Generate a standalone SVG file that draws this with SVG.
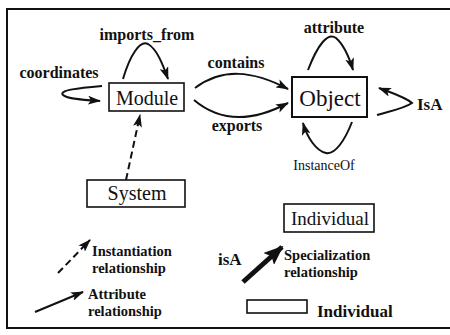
<svg xmlns="http://www.w3.org/2000/svg" width="450" height="335" viewBox="0 0 450 335">
<style>
.bx{fill:#fff;stroke:#111;stroke-width:1.6}
text{font-family:"Liberation Serif","Times New Roman",Tinos,"DejaVu Serif",serif}
.lbl{font-weight:bold;font-size:16px;fill:#111}
.lg{font-weight:bold;font-size:14.5px;fill:#111}
.nd{font-size:20px;fill:#111}
.cn{fill:none;stroke:#111;stroke-width:2}
.dash{stroke-dasharray:7,4}
</style>
<defs>
<marker id="ah" markerUnits="userSpaceOnUse" markerWidth="13" markerHeight="9" refX="12" refY="4.5" orient="auto">
<path d="M0,0 L13,4.5 L0,9 L3,4.5 z" fill="#111"/>
</marker>
<marker id="ahb" markerUnits="userSpaceOnUse" markerWidth="20" markerHeight="16" refX="18" refY="8" orient="auto">
<path d="M0,0 L20,8 L0,16 L4,8 z" fill="#111"/>
</marker>
</defs>
<rect width="450" height="335" fill="#fff"/>
<g id="frame" fill="none" stroke="#111" stroke-width="2">
<path d="M450,9 L7,9 L7,328 L450,328"/>
</g>
<g id="connectors">
<path class="cn" d="M102,86 C80,88 58,90 63,95 C67,99 85,100 100,101" marker-end="url(#ah)"/>
<path class="cn" d="M123,79 C130,55 140,40 148,44 C157,49 163,65 168,79" marker-end="url(#ah)"/>
<path class="cn" d="M195,88 C222,68 252,70 288,89" marker-end="url(#ah)"/>
<path class="cn" d="M194,100 C220,122 252,122 288,103" marker-end="url(#ah)"/>
<path class="cn" d="M308,70 C318,44 328,32 336,38 C344,45 350,60 353,70" marker-end="url(#ah)"/>
<path class="cn" d="M377,115 C395,110 405,108 412,103 C405,97 392,93 379,88" marker-end="url(#ah)"/>
<path class="cn" d="M352,122 C345,140 335,155 326,153 C316,151 307,137 303,123" marker-end="url(#ah)"/>
<path class="cn dash" d="M126,180 L140,115" marker-end="url(#ah)"/>
</g>
<g id="Module">
<rect class="bx" x="109" y="83" width="75" height="28"/>
<text class="nd" x="147" y="105" text-anchor="middle">Module</text>
</g>
<g id="Object">
<rect class="bx" x="292" y="77" width="75" height="40" style="stroke-width:2"/>
<text class="nd" x="330" y="106" text-anchor="middle" style="font-size:23px">Object</text>
</g>
<g id="System">
<rect class="bx" x="87" y="180" width="98" height="27"/>
<text class="nd" x="137" y="200" text-anchor="middle">System</text>
</g>
<g id="Individual">
<rect class="bx" x="284" y="204" width="90" height="28"/>
<text class="nd" x="330" y="225" text-anchor="middle" style="font-size:19px">Individual</text>
</g>
<g id="labels">
<text class="lbl" x="147" y="40" text-anchor="middle">imports_from</text>
<text class="lbl" x="59" y="78" text-anchor="middle">coordinates</text>
<text class="lbl" x="236" y="68" text-anchor="middle">contains</text>
<text class="lbl" x="237" y="131" text-anchor="middle">exports</text>
<text class="lbl" x="334" y="33" text-anchor="middle">attribute</text>
<text class="lbl" x="417" y="110" style="font-size:17px">IsA</text>
<text class="lbl" x="324" y="170" text-anchor="middle" style="font-weight:normal;font-size:14px">InstanceOf</text>
</g>
<g id="legend">
<path class="cn dash" d="M58,273 L90,240" marker-end="url(#ah)"/>
<text class="lg" x="92" y="256">Instantiation</text>
<text class="lg" x="92" y="272.5">relationship</text>
<path class="cn" d="M35,312 L83,292" marker-end="url(#ah)"/>
<text class="lg" x="88" y="299">Attribute</text>
<text class="lg" x="88" y="315.5">relationship</text>
<text class="lbl" x="218" y="265" style="font-size:17px">isA</text>
<path class="cn" d="M243,282 L282,247" style="stroke-width:5" marker-end="url(#ahb)"/>
<text class="lg" x="284" y="260">Specialization</text>
<text class="lg" x="284" y="276.5">relationship</text>
<rect class="bx" x="247" y="300" width="60" height="13"/>
<text class="lbl" x="317" y="317" style="font-size:17px">Individual</text>
</g>
</svg>
